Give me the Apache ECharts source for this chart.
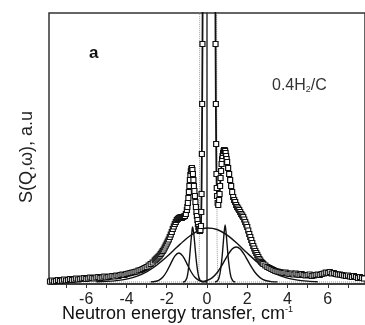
<!DOCTYPE html>
<html><head><meta charset="utf-8">
<script src="https://cdn.jsdelivr.net/npm/echarts@6/dist/echarts.min.js"></script>
<style>html,body{margin:0;padding:0;background:#fff}#c{width:365px;height:325px}</style>
</head><body><div id="c"></div>
<script>
// Measured spectrum (open squares): [energy transfer, intensity]
const spectrum = [
 [-7.8,2.5],[-7.7,3.5],[-7.6,2.5],[-7.5,3],[-7.4,4],[-7.3,3],[-7.2,3.5],[-7.1,4.5],[-7.0,3.5],[-6.9,4],
 [-6.8,5],[-6.7,4],[-6.6,4.5],[-6.5,5.5],[-6.4,4.5],[-6.3,5],[-6.2,5.5],[-6.1,6],[-6.0,5],[-5.9,5.5],
 [-5.8,6.5],[-5.7,6],[-5.6,5.5],[-5.5,6.5],[-5.4,7],[-5.3,6],[-5.2,6.5],[-5.1,7.5],[-5.0,6.5],[-4.9,7],
 [-4.8,7.5],[-4.7,8],[-4.6,7.5],[-4.5,8.5],[-4.4,8],[-4.3,9],[-4.2,9.5],[-4.1,9],[-4.0,10],[-3.9,10.5],
 [-3.8,11],[-3.7,11.5],[-3.6,12],[-3.5,12.5],[-3.4,13.5],[-3.3,14],[-3.2,15],[-3.1,16],[-3.0,17],[-2.9,18.5],
 [-2.8,20],[-2.7,21.5],[-2.6,23.5],[-2.55,24.5],[-2.5,25.5],[-2.45,26.5],[-2.4,27.5],[-2.35,28.5],[-2.3,30],[-2.25,31.5],
 [-2.2,33],[-2.15,34.5],[-2.1,36.5],[-2.05,38.5],[-2.0,40.5],[-1.95,42.5],[-1.9,44.5],[-1.85,47],[-1.8,49.5],[-1.75,52],
 [-1.7,55],[-1.65,57.5],[-1.6,60],[-1.55,62],[-1.5,64],[-1.45,65],[-1.4,66],[-1.35,66.5],[-1.3,67],[-1.25,66],
 [-1.2,67],[-1.15,67.5],[-1.1,68],[-1.05,70],[-1.0,74],[-0.975,77],[-0.95,81],[-0.925,86],[-0.9,92],[-0.875,98],
 [-0.85,104],[-0.825,109],[-0.8,113],[-0.775,115],[-0.75,116],[-0.725,114],[-0.7,110],[-0.675,104],[-0.65,98],[-0.625,93],
 [-0.6,88],[-0.575,82],[-0.55,77],[-0.525,72],[-0.5,68],[-0.475,64],[-0.45,60],[-0.425,57],[-0.4,55],[-0.375,53.5],
 [-0.35,53],[-0.325,54],[-0.3,58],[-0.285,72],[-0.27,90],[-0.255,130],[-0.24,180],[-0.225,240],[-0.21,320],[0.1,3000],
 [0.41,320],[0.425,240],[0.44,180],[0.455,140],[0.47,110],[0.485,96],[0.5,88],[0.53,81],[0.56,79],[0.6,84],
 [0.625,90],[0.65,98],[0.675,106],[0.7,113],[0.725,120],[0.75,125],[0.775,128],[0.8,131],[0.825,133],[0.85,134],
 [0.875,134],[0.9,133],[0.925,131],[0.95,128],[0.975,125],[1.0,122],[1.05,116],[1.1,110],[1.15,104],[1.2,98],
 [1.25,92],[1.3,87],[1.35,84],[1.4,82],[1.45,79],[1.5,77],[1.55,75.5],[1.6,74],[1.65,72],[1.7,70],
 [1.75,68.5],[1.8,67],[1.85,64.5],[1.9,62],[1.95,59.5],[2.0,57],[2.05,53.5],[2.1,50],[2.15,47],[2.2,44],
 [2.25,41],[2.3,38],[2.35,35.5],[2.4,33],[2.45,31],[2.5,29],[2.55,27],[2.6,25],[2.65,23.5],[2.7,22],
 [2.75,21],[2.8,20],[2.9,18.5],[3.0,17],[3.1,16],[3.2,15],[3.3,14],[3.4,13],[3.5,12.5],[3.6,12],
 [3.7,11.5],[3.8,11],[3.9,11.5],[4.0,10.5],[4.1,10],[4.2,10.5],[4.3,9.5],[4.4,10.5],[4.5,9.5],[4.6,9],
 [4.7,10],[4.8,9],[4.9,8.5],[5.0,9],[5.1,9.5],[5.2,8],[5.3,8.5],[5.4,9],[5.5,9.5],[5.6,9],
 [5.7,10],[5.8,10.5],[5.9,11.5],[6.0,11],[6.1,12],[6.2,10.5],[6.3,11],[6.4,10],[6.5,9.5],[6.6,9.5],
 [6.7,9],[6.8,8.5],[6.9,8],[7.0,8.5],[7.1,7.5],[7.2,7],[7.3,8],[7.4,7],[7.5,6],[7.6,7],[7.7,6],[7.8,5.5]
];

// Fitted components
const broadX = [-5.5,-5,-4.5,-4,-3.5,-3,-2.5,-2,-1.5,-1,-0.5,0,0.5,1,1.5,2,2.5,3,3.5,4,4.5,5,5.5];
const broadY = [2.2,2.6,3.4,4.9,7.7,12.2,18.8,27.2,36.7,45.8,52.7,56,54.5,48.9,40.5,30.9,21.9,14.6,9.3,5.9,3.9,2.9,2.3];
const midLX = [-2.8,-2.6,-2.4,-2.2,-2.0,-1.8,-1.6,-1.4,-1.2,-1.0,-0.8,-0.6,-0.4,-0.2,0];
const midLY = [2.1,2.5,3.7,6.7,12.5,20.4,27.9,31,27.9,20.4,12.5,6.7,3.7,2.5,2.1];
const midRX = [-0.2,0,0.25,0.5,0.75,1.0,1.25,1.45,1.65,1.9,2.15,2.4,2.65,2.9,3.2,3.5];
const midRY = [2.3,3.5,6.1,11.2,18.9,27.9,35,37,35,27.9,18.9,11.2,6.1,3.5,2.4,2.1];
const narLX = [-1.2,-1.1,-1.0,-0.95,-0.9,-0.85,-0.8,-0.75,-0.72,-0.7,-0.65,-0.6,-0.55,-0.5,-0.45,-0.4,-0.35,-0.3,-0.2];
const narLY = [2,2.6,6,11,19,30,42,52,57,56,49,38,27,18,11,6.5,4,2.8,2];
const narRX = [0.4,0.5,0.55,0.6,0.65,0.7,0.75,0.8,0.85,0.9,0.95,1.0,1.05,1.1,1.15,1.2,1.3,1.4];
const narRY = [2,2.8,4,6.5,11,18,27,39,51,59,51,39,27,18,11,6.5,2.8,2];
const elasX = [-0.6,-0.42,-0.38,-0.35,0.06,0.47,0.5,0.54,0.7];
const elasY = [2,2.5,40,400,3000,400,40,2.5,2];
const baseX = [-7.85,7.85];
const baseY = [2,2];

// Axis ticks and labels
const tickValues = [-7,-6,-5,-4,-3,-2,-1,0,1,2,3,4,5,6,7];
const tickLabels = [-6,-4,-2,0,2,4,6];

const pairs = (xs, ys) => xs.map((x, i) => [x, ys[i]]);
const chart = echarts.init(document.getElementById('c'), null, {renderer: 'canvas'});
const FONT = 'Liberation Sans, Arial, sans-serif';
const compLine = (name, xs, ys) => ({
  name, type: 'line', data: pairs(xs, ys), smooth: 0.3, showSymbol: false, clip: true,
  lineStyle: {color: '#111', width: 1.4}, z: 3
});
chart.setOption({
  animation: false,
  grid: {left: 49, right: -2, top: 13, bottom: 41, show: true, borderColor: '#333', borderWidth: 1.5},
  xAxis: {
    type: 'value', min: -7.85, max: 7.85,
    axisLine: {show: true, onZero: false, lineStyle: {color: '#333', width: 1.5}},
    axisTick: {show: true, customValues: tickValues, length: 4, inside: false, lineStyle: {color: '#333', width: 1}},
    axisLabel: {customValues: tickLabels, color: '#222', fontSize: 16, fontFamily: FONT, margin: 8},
    splitLine: {show: false}
  },
  yAxis: {
    type: 'value', min: 0, max: 271,
    axisLine: {show: true, lineStyle: {color: '#333', width: 1.5}},
    axisTick: {show: false}, axisLabel: {show: false}, splitLine: {show: false}
  },
  graphic: [
    {type: 'text', x: 27, y: 157, rotation: Math.PI / 2, style: {
      text: 'S(Q,ω), a.u', font: '18px ' + FONT, fill: '#222', align: 'center', verticalAlign: 'middle'}},
    {type: 'text', left: 89, top: 45, style: {text: 'a', font: 'bold 17px ' + FONT, fill: '#111'}},
    {type: 'text', left: 272, top: 78, style: {
      text: '0.4H{sub|2}/C', font: '16px ' + FONT, fill: '#333',
      rich: {sub: {fontSize: 9, fontFamily: FONT, fill: '#333', padding: [8, 0, 0, 0]}}
    }},
    {type: 'text', left: 62, top: 305, style: {
      text: 'Neutron energy transfer, cm{sup|-1}', font: '18px ' + FONT, fill: '#111',
      rich: {sup: {fontSize: 9, fontFamily: FONT, fill: '#111', padding: [0, 0, 9, 0]}}
    }}
  ],
  series: [
    {name: 'base', type: 'line', data: pairs(baseX, baseY), showSymbol: false,
     lineStyle: {color: '#999', width: 1, type: 'dotted'}, z: 1},
    {name: 'elastic', type: 'line', data: pairs(elasX, elasY), showSymbol: false, clip: true,
     lineStyle: {color: '#999', width: 1, type: 'dotted'}, z: 1},
    compLine('broad', broadX, broadY),
    compLine('midL', midLX, midLY),
    compLine('midR', midRX, midRY),
    compLine('narL', narLX, narLY),
    compLine('narR', narRX, narRY),
    {name: 'data', type: 'line', data: spectrum, clip: true,
     symbol: 'rect', symbolSize: 5, showAllSymbol: true,
     itemStyle: {color: '#fff', borderColor: '#111', borderWidth: 1.2},
     lineStyle: {color: '#111', width: 1.8}, z: 4}
  ]
});
</script></body></html>
